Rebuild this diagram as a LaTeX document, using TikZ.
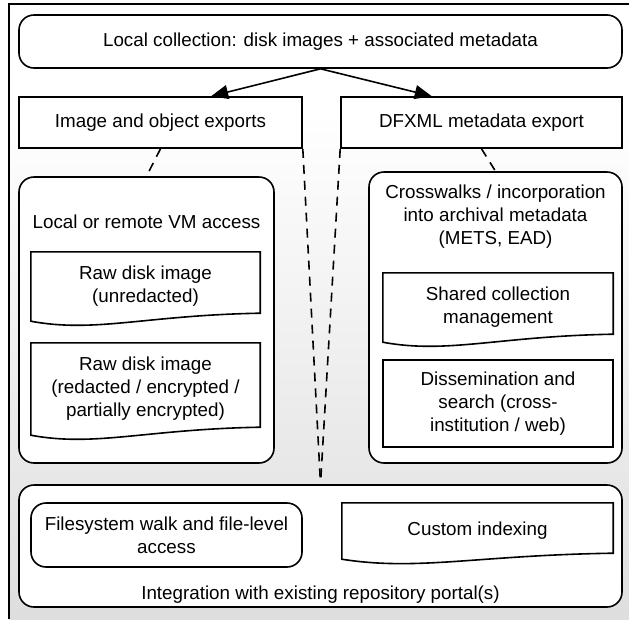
\documentclass[tikz,border=0pt]{standalone}
\usepackage{fontspec}
\setmainfont{Liberation Sans}
\usetikzlibrary{arrows.meta,calc}
\tikzset{
  every node/.style={font=\fontsize{18.8}{23}\selectfont, align=center, inner sep=0pt},
  rbox/.style={draw, line width=1.6pt, rounded corners=15pt, fill=white},
  sbox/.style={draw, line width=1.6pt, fill=white},
  dbox/.style={},
  conn/.style={line width=1.6pt, -{Triangle[length=17pt,width=14pt]}},
  dconn/.style={line width=1.6pt, dash pattern=on 9pt off 7pt},
  docline/.style={line width=1.6pt},
}
\newcommand{\docshape}[2]{%
  \draw[docline] (#1.north west) -- (#1.north east) -- ($(#1.south east)+(0,-#2)$)
    .. controls ($(#1.south east)!0.5!(#1.south west)+(0,-#2+2)$) and ($(#1.south east)!0.72!(#1.south west)+(0,12)$) .. (#1.south west) -- cycle;}
\begin{document}
\begin{tikzpicture}[x=1pt,y=-1pt]
\useasboundingbox (0,0) rectangle (629,619);
% background
\fill[white] (0,0) rectangle (629,619);
\shade[top color=white, bottom color=black!13] (9,110) rectangle (629,619);
\draw[line width=1.2pt] (9,619) -- (9,4) -- (629,4);

% top level
\node[rbox, minimum width=603pt, minimum height=53pt] (top) at (320.5,41.5) {Local collection: disk images + associated metadata};
\node[sbox, minimum width=283pt, minimum height=51pt] (imgexp) at (160.5,122.5) {Image and object exports};
\node[sbox, minimum width=281pt, minimum height=51pt] (dfxml) at (481.5,122.5) {DFXML metadata export};

% containers
\node[rbox, minimum width=255pt, minimum height=286pt] (vmc) at (146.5,320) {};
\node[rbox, minimum width=253pt, minimum height=291pt] (xwalk) at (495.5,317.5) {};
\node[rbox, minimum width=603pt, minimum height=122pt] (bottom) at (320.5,546) {};

% container labels
\node (vml) at (146.5,222) {Local or remote VM access};
\node (xwl) at (495.5,217) {Crosswalks / incorporation\\into archival metadata\\(METS, EAD)};
\node (intl) at (320.5,595) {Integration with existing repository portal(s)};

% inner boxes
\node[dbox, minimum width=229pt, minimum height=69pt] (doc1) at (145.5,286.5) {Raw disk image\\(unredacted)};
\docshape{doc1}{8}
\node[dbox, minimum width=229pt, minimum height=92pt] (doc2) at (145.5,389) {Raw disk image\\(redacted / encrypted /\\partially encrypted)};
\docshape{doc2}{8}
\node[dbox, minimum width=230pt, minimum height=69pt] (shared) at (498,307.5) {Shared collection\\management};
\docshape{shared}{8}
\node[sbox, minimum width=230pt, minimum height=87pt] (diss) at (498,403.5) {Dissemination and\\search (cross-\\institution / web)};
\node[rbox, minimum width=271pt, minimum height=64pt] (fs) at (166.5,535) {Filesystem walk and file-level\\access};
\node[dbox, minimum width=271pt, minimum height=56pt] (custom) at (477.5,531) {Custom indexing};
\docshape{custom}{6}

% connectors
\draw[conn] (top.south) -- ($(imgexp.north west)!0.678!(imgexp.north east)$);
\draw[conn] (top.south) -- ($(dfxml.north west)!0.324!(dfxml.north east)$);
\draw[dconn] (imgexp.south) -- (vmc.north);
\draw[dconn] (dfxml.south) -- (xwalk.north);
\draw[dconn] (imgexp.south east) -- (bottom.north);
\draw[dconn] (dfxml.south west) -- (bottom.north);
\end{tikzpicture}
\end{document}
